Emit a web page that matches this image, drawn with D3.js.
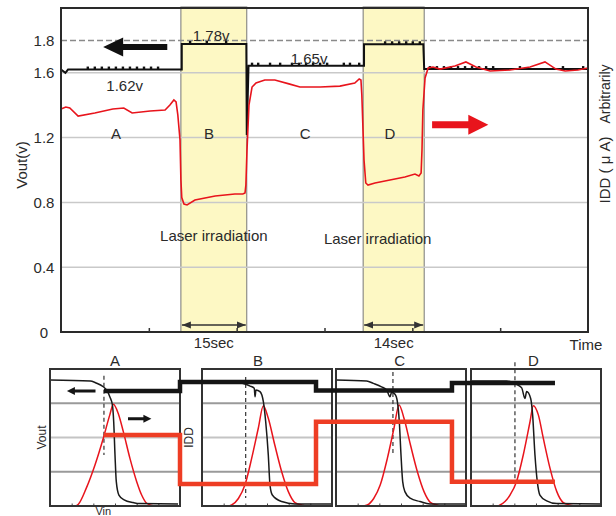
<!DOCTYPE html>
<html>
<head>
<meta charset="utf-8">
<script src="https://cdn.jsdelivr.net/npm/d3@7"></script>
<style>
  body { margin: 0; background: #fff; }
  text { font-family: "Liberation Sans", Arial, sans-serif; fill: #2a2a2a; }
</style>
</head>
<body>
<svg id="chart" width="616" height="516"></svg>
<script>
// ---- data: main trace (time in sec, Vout in V / IDD arbitrary) ----
const vTicks = [0, 0.4, 0.8, 1.2, 1.6, 1.8];
const gridValues = [0.4, 0.8, 1.2, 1.6];
const timeTicks = [20, 40, 60, 80, 100];
const laserPeriods = [
  { name: "B", start: 27.3, end: 42.3, label: "15sec" },
  { name: "D", start: 68.8, end: 82.7, label: "14sec" }
];
const regionLabels = [["A", 12.5], ["B", 33.7], ["C", 55.6], ["D", 74.9]];
const voutTrace = [
  [0, 1.62], [1, 1.6], [1.6, 1.62], [27.5, 1.62], [27.5, 1.778], [42.2, 1.778],
  [42.3, 1.216], [42.7, 1.644], [69.0, 1.644], [69.0, 1.776], [82.5, 1.776],
  [82.7, 1.623], [120, 1.623]
];
const voutGlitches = [
  6.1, 7.7, 9.3, 10.9, 12.5, 14.1, 15.7, 17.3, 18.9, 20.5, 22.1,
  29.4, 33.2, 37.6,
  43.5, 44.9, 47.6, 49.9, 52.6, 54.2, 55.8, 57.4, 59, 60.6, 64.4, 65.8, 67.9,
  73.8, 75.4, 77, 78.6, 80.1, 81.7,
  84, 85.6, 87.2, 88.8, 90.4, 92, 93.6, 95.2, 96.8, 98.4, 104.5, 114.3, 118.9
];
const iddTrace = [
  [0, 1.377], [1.1, 1.389], [2.0, 1.383], [3.9, 1.333], [7.7, 1.352], [11.8, 1.377],
  [14.3, 1.383], [16.2, 1.352], [20.3, 1.364], [23.7, 1.37], [24.8, 1.401],
  [25.7, 1.432], [26.2, 1.42], [26.6, 1.34], [27.1, 1.185], [27.3, 0.94],
  [27.5, 0.83], [28.0, 0.79], [28.7, 0.784], [30.5, 0.815], [35.1, 0.84],
  [39.6, 0.852], [41.4, 0.852], [41.9, 0.858], [42.1, 0.907], [42.35, 1.12],
  [42.8, 1.40], [43.5, 1.512], [44.4, 1.537], [46.4, 1.556], [48.7, 1.556],
  [52.1, 1.53], [54.4, 1.512], [59.0, 1.512], [63.5, 1.518], [66.9, 1.537],
  [67.9, 1.562], [68.3, 1.556], [68.5, 1.463], [69.0, 1.062], [69.4, 0.92],
  [69.9, 0.907], [71.5, 0.92], [74.9, 0.938], [78.3, 0.957], [80.6, 0.975],
  [81.5, 0.963], [82.0, 0.981], [82.2, 1.123], [82.4, 1.37], [82.9, 1.568],
  [83.6, 1.63], [84.7, 1.636], [86.3, 1.623], [89.7, 1.642], [92.2, 1.667],
  [94.5, 1.636], [97.7, 1.611], [102.2, 1.617], [106.8, 1.636], [110.2, 1.667],
  [112.7, 1.623], [114.8, 1.611], [117.7, 1.617], [120, 1.63]
];
const levelLabels = [["1.62v", 1.52, 14.5], ["1.78v", 1.83, 34.2], ["1.65v", 1.69, 56.5]];

// ---- data: inset transfer curves (Vin 0..1, value 0..4) ----
const insetNames = ["A", "B", "C", "D"];
const insetVout = [
  [[0, 3.68], [0.31, 3.65], [0.35, 3.6], [0.41, 3.48], [0.44, 3.36], [0.46, 3.19], [0.48, 2.95],
   [0.49, 2.46], [0.5, 1.49], [0.51, 0.71], [0.53, 0.32], [0.57, 0.18], [0.64, 0.1], [0.69, 0.07], [0.985, 0.06]],
  [[0, 3.65], [0.277, 3.62], [0.33, 3.56], [0.37, 3.5], [0.402, 3.44], [0.408, 3.19], [0.415, 3.39],
   [0.446, 3.34], [0.472, 3.05], [0.49, 2.46], [0.51, 1.49], [0.523, 0.61], [0.541, 0.32],
   [0.613, 0.13], [0.715, 0.06], [1, 0.06]],
  [[0, 3.68], [0.236, 3.65], [0.287, 3.58], [0.35, 3.48], [0.39, 3.39], [0.415, 3.19], [0.428, 3.32],
   [0.454, 3.26], [0.472, 3.05], [0.487, 2.46], [0.5, 1.49], [0.513, 0.71], [0.53, 0.42],
   [0.57, 0.23], [0.646, 0.13], [0.723, 0.06], [1, 0.06]],
  [[0, 3.65], [0.274, 3.65], [0.35, 3.55], [0.39, 3.45], [0.415, 3.14], [0.428, 3.34], [0.459, 3.14],
   [0.474, 2.66], [0.492, 1.49], [0.51, 0.71], [0.53, 0.32], [0.582, 0.15], [0.66, 0.07], [1, 0.06]]
];
const insetIdd = [
  [[0.2, 0], [0.218, 0.05], [0.28, 0.53], [0.346, 1.2], [0.41, 1.98], [0.46, 2.66], [0.487, 2.97],
   [0.525, 2.7], [0.564, 2.17], [0.615, 1.39], [0.667, 0.71], [0.705, 0.32], [0.744, 0.08], [0.8, 0]],
  [[0, 0], [0.2, 0], [0.228, 0.03], [0.28, 0.22], [0.33, 0.61], [0.382, 1.39], [0.433, 2.27], [0.472, 2.93],
   [0.51, 2.56], [0.56, 1.78], [0.613, 1.0], [0.664, 0.42], [0.715, 0.1], [0.767, 0.03], [0.8, 0], [1, 0]],
  [[0, 0], [0.2, 0], [0.24, 0.03], [0.29, 0.22], [0.34, 0.61], [0.395, 1.39], [0.446, 2.27], [0.485, 2.95],
   [0.523, 2.56], [0.573, 1.78], [0.626, 1.0], [0.677, 0.42], [0.728, 0.1], [0.78, 0.03], [0.81, 0], [1, 0]],
  [[0, 0], [0.2, 0], [0.223, 0.03], [0.3, 0.32], [0.35, 0.71], [0.402, 1.49], [0.454, 2.46], [0.479, 2.93],
   [0.518, 2.66], [0.556, 1.98], [0.608, 1.1], [0.66, 0.42], [0.71, 0.1], [0.76, 0.03], [0.8, 0], [1, 0]]
];
const insetPeak = [0.5, 0.43, 0.49, 0.48];
const insetThreshold = [[0.415, 3.8, 1.49], [0.336, 3.77, 0.23], [0.438, 3.91, 1.49], [0.338, 4.2, 0.7]];
// step lines running across the insets: breakpoints (panel, Vin) and levels per segment
const stepBreaks = [[0, 0.415], [0, 1.0], [1, 0.877], [2, 0.892], [3, 0.646]];
const voutSteps = [3.36, 3.62, 3.37, 3.59];
const iddSteps = [2.07, 0.64, 2.46, 0.71];

// ---- main chart ----
const svg = d3.select("#chart");
const x = d3.scaleLinear().domain([0, 120]).range([61, 588]);
const y = d3.scaleLinear().domain([0, 2]).range([332, 8]);
const y2 = d3.scaleLinear().domain([0, 2]).range([332, 8]); // IDD, arbitrary units

const defs = svg.append("defs");
defs.append("marker").attr("id", "dbl").attr("viewBox", "0 -5 10 10")
    .attr("refX", 10).attr("markerWidth", 6).attr("markerHeight", 6)
    .attr("orient", "auto-start-reverse")
    .append("path").attr("d", "M0,-4L10,0L0,4Z").style("fill", "#333");

// laser bands
svg.append("g").selectAll("rect").data(laserPeriods).join("rect")
    .attr("x", d => x(d.start)).attr("y", 7)
    .attr("width", d => x(d.end) - x(d.start)).attr("height", y(0) - 7)
    .style("fill", "#fdf8c4").style("stroke", "#777").style("stroke-width", 1);

// grid
svg.append("g").selectAll("line").data(gridValues).join("line")
    .attr("x1", x(0)).attr("x2", x(120)).attr("y1", d => y(d)).attr("y2", d => y(d))
    .style("stroke", "#c9c9c9").style("stroke-width", 1.5);
svg.append("line").attr("x1", x(0)).attr("x2", x(120)).attr("y1", y(1.8)).attr("y2", y(1.8))
    .style("stroke", "#8a8a8a").style("stroke-width", 1.5).style("stroke-dasharray", "6,3");

// Vout trace (black)
svg.append("path").datum(voutTrace)
    .attr("d", d3.line().x(d => x(d[0])).y(d => y(d[1])))
    .style("fill", "none").style("stroke", "#111").style("stroke-width", 2);
const levelAt = t => { let v = voutTrace[0][1]; voutTrace.forEach(p => { if (p[0] <= t) v = p[1]; }); return v; };
svg.append("g").selectAll("rect").data(voutGlitches).join("rect")
    .attr("x", d => x(d) - 1.2).attr("y", d => y(levelAt(d)) - 3)
    .attr("width", 2.4).attr("height", 3).style("fill", "#111");

// IDD trace (red)
svg.append("path").datum(iddTrace)
    .attr("d", d3.line().x(d => x(d[0])).y(d => y2(d[1])))
    .style("fill", "none").style("stroke", "#e8141c").style("stroke-width", 1.6);

// frame + axes
svg.append("rect").attr("x", x(0)).attr("y", y(2)).attr("width", x(120) - x(0)).attr("height", y(0) - y(2))
    .style("fill", "none").style("stroke", "#2a2a2a").style("stroke-width", 2);
svg.append("g").attr("transform", `translate(0,${y(0)})`)
    .call(d3.axisBottom(x).tickValues(timeTicks).tickSize(-4).tickFormat(""))
    .call(g => g.select(".domain").remove())
    .call(g => g.selectAll(".tick line").style("stroke", "#333").style("stroke-width", 1.5));
svg.append("g").selectAll("text").data(vTicks).join("text")
    .attr("x", 44).attr("y", d => y(d) + 5.5).attr("text-anchor", "middle")
    .style("font-size", "15px").text(d => d === 0 ? "0" : d.toFixed(1));
svg.append("text").attr("transform", "translate(27,165) rotate(-90)")
    .attr("text-anchor", "middle").style("font-size", "15px").text("Vout(v)");
svg.append("text").attr("transform", "translate(610,94) rotate(-90)")
    .attr("text-anchor", "middle").style("font-size", "14px").text("Arbitrarily");
svg.append("text").attr("transform", "translate(610,170) rotate(-90)")
    .attr("text-anchor", "middle").style("font-size", "15px").text("IDD ( \u03bc A)");
svg.append("text").attr("x", 586).attr("y", 350).attr("text-anchor", "middle")
    .style("font-size", "15px").text("Time");

// region letters and level labels
svg.append("g").selectAll("text").data(regionLabels).join("text")
    .attr("x", d => x(d[1])).attr("y", 139).attr("text-anchor", "middle")
    .style("font-size", "15px").text(d => d[0]);
svg.append("g").selectAll("text").data(levelLabels).join("text")
    .attr("x", d => x(d[2])).attr("y", d => y(d[1]) + 5.5).attr("text-anchor", "middle")
    .style("font-size", "15px").text(d => d[0]);

// laser annotations
const ann = svg.append("g").selectAll("g").data(laserPeriods).join("g");
ann.append("line")
    .attr("x1", d => x(d.start) + 1).attr("x2", d => x(d.end) - 1)
    .attr("y1", 325).attr("y2", 325)
    .attr("marker-start", "url(#dbl)").attr("marker-end", "url(#dbl)")
    .style("stroke", "#333").style("stroke-width", 1.5);
ann.append("text").attr("x", d => (x(d.start) + x(d.end)) / 2).attr("y", 348)
    .attr("text-anchor", "middle").style("font-size", "15px").text(d => d.label);
ann.append("text").attr("x", (d, i) => (x(d.start) + x(d.end)) / 2 + (i ? -16 : 0))
    .attr("y", (d, i) => i ? 244 : 241).attr("text-anchor", "middle")
    .style("font-size", "15px").text("Laser irradiation");

// big direction arrows
function arrow(g, x0, x1, yc, shaft, head, headLen, color) {
  const dir = Math.sign(x1 - x0), xb = x1 - dir * headLen;
  g.append("path").attr("d",
    `M${x0},${yc - shaft / 2}L${xb},${yc - shaft / 2}L${xb},${yc - head / 2}L${x1},${yc}` +
    `L${xb},${yc + head / 2}L${xb},${yc + shaft / 2}L${x0},${yc + shaft / 2}Z`)
    .style("fill", color);
}
arrow(svg, x(24.2), x(9.6), y(1.76), 6, 19, 20, "#111");
arrow(svg, x(84.5), x(97.3), y(1.28), 7, 20, 20, "#e8141c");

// ---- insets ----
const panelLeft = [50, 202, 336, 471], panelW = 130;
const iy = d3.scaleLinear().domain([0, 4]).range([506, 369]);
const ix = panelLeft.map(l => d3.scaleLinear().domain([0, 1]).range([l, l + panelW]));
const inset = svg.append("g");

insetNames.forEach((name, i) => {
  const g = inset.append("g");
  const sx = ix[i];
  g.append("rect").attr("x", sx(0)).attr("y", iy(4)).attr("width", panelW).attr("height", iy(0) - iy(4))
      .style("fill", "#fff");
  g.selectAll(".gl").data([1, 2, 3]).join("line")
      .attr("x1", sx(0)).attr("x2", sx(1)).attr("y1", d => iy(d)).attr("y2", d => iy(d))
      .style("stroke", d => d === 2 ? "#c4c4c4" : "#9a9a9a").style("stroke-width", 1.8);
  g.append("g").attr("transform", `translate(0,${iy(0)})`)
      .call(d3.axisBottom(sx).tickValues([1, 2, 3, 4, 5].map(k => k / 6)).tickSize(-2.5).tickFormat(""))
      .call(a => a.select(".domain").remove())
      .call(a => a.selectAll(".tick line").style("stroke", "#444"));
  const th = insetThreshold[i];
  g.append("line").attr("x1", sx(th[0])).attr("x2", sx(th[0])).attr("y1", iy(th[1])).attr("y2", iy(th[2]))
      .style("stroke", "#333").style("stroke-width", 1.2).style("stroke-dasharray", "4,3");
  g.append("path").datum(insetIdd[i])
      .attr("d", d3.line().x(d => sx(d[0])).y(d => iy(d[1])).curve(d3.curveMonotoneX))
      .style("fill", "none").style("stroke", "#e8141c").style("stroke-width", 1.5);
  g.append("path").datum(insetVout[i])
      .attr("d", d3.line().x(d => sx(d[0])).y(d => iy(d[1])).curve(d3.curveMonotoneX))
      .style("fill", "none").style("stroke", "#1a1a1a").style("stroke-width", 1.5);
  g.append("rect").attr("x", sx(0)).attr("y", iy(4)).attr("width", panelW).attr("height", iy(0) - iy(4))
      .style("fill", "none").style("stroke", "#333").style("stroke-width", 2);
  g.append("text").attr("x", sx(insetPeak[i])).attr("y", 366).attr("text-anchor", "middle")
      .style("font-size", "15px").text(name);
});

function stepLine(levels) {
  const pts = [];
  levels.forEach((lv, i) => {
    const a = stepBreaks[i], b = stepBreaks[i + 1];
    pts.push([ix[a[0]](a[1]), iy(lv)], [ix[b[0]](b[1]), iy(lv)]);
  });
  return d3.line()(pts);
}
inset.append("path").attr("d", stepLine(iddSteps))
    .style("fill", "none").style("stroke", "#ee3d24").style("stroke-width", 4.5);
inset.append("path").attr("d", stepLine(voutSteps))
    .style("fill", "none").style("stroke", "#151515").style("stroke-width", 4.5);

arrow(inset, ix[0](0.35), ix[0](0.13), iy(3.36), 3, 8, 8, "#151515");
arrow(inset, ix[0](0.6), ix[0](0.78), iy(2.55), 3, 8, 8, "#151515");
inset.append("text").attr("transform", `translate(46,${iy(2)}) rotate(-90)`)
    .attr("text-anchor", "middle").style("font-size", "12px").text("Vout");
inset.append("text").attr("transform", `translate(193,${iy(2)}) rotate(-90)`)
    .attr("text-anchor", "middle").style("font-size", "12px").text("IDD");
inset.append("text").attr("x", ix[0](0.41)).attr("y", 515).attr("text-anchor", "middle")
    .style("font-size", "11px").text("Vin");
</script>
</body>
</html>
